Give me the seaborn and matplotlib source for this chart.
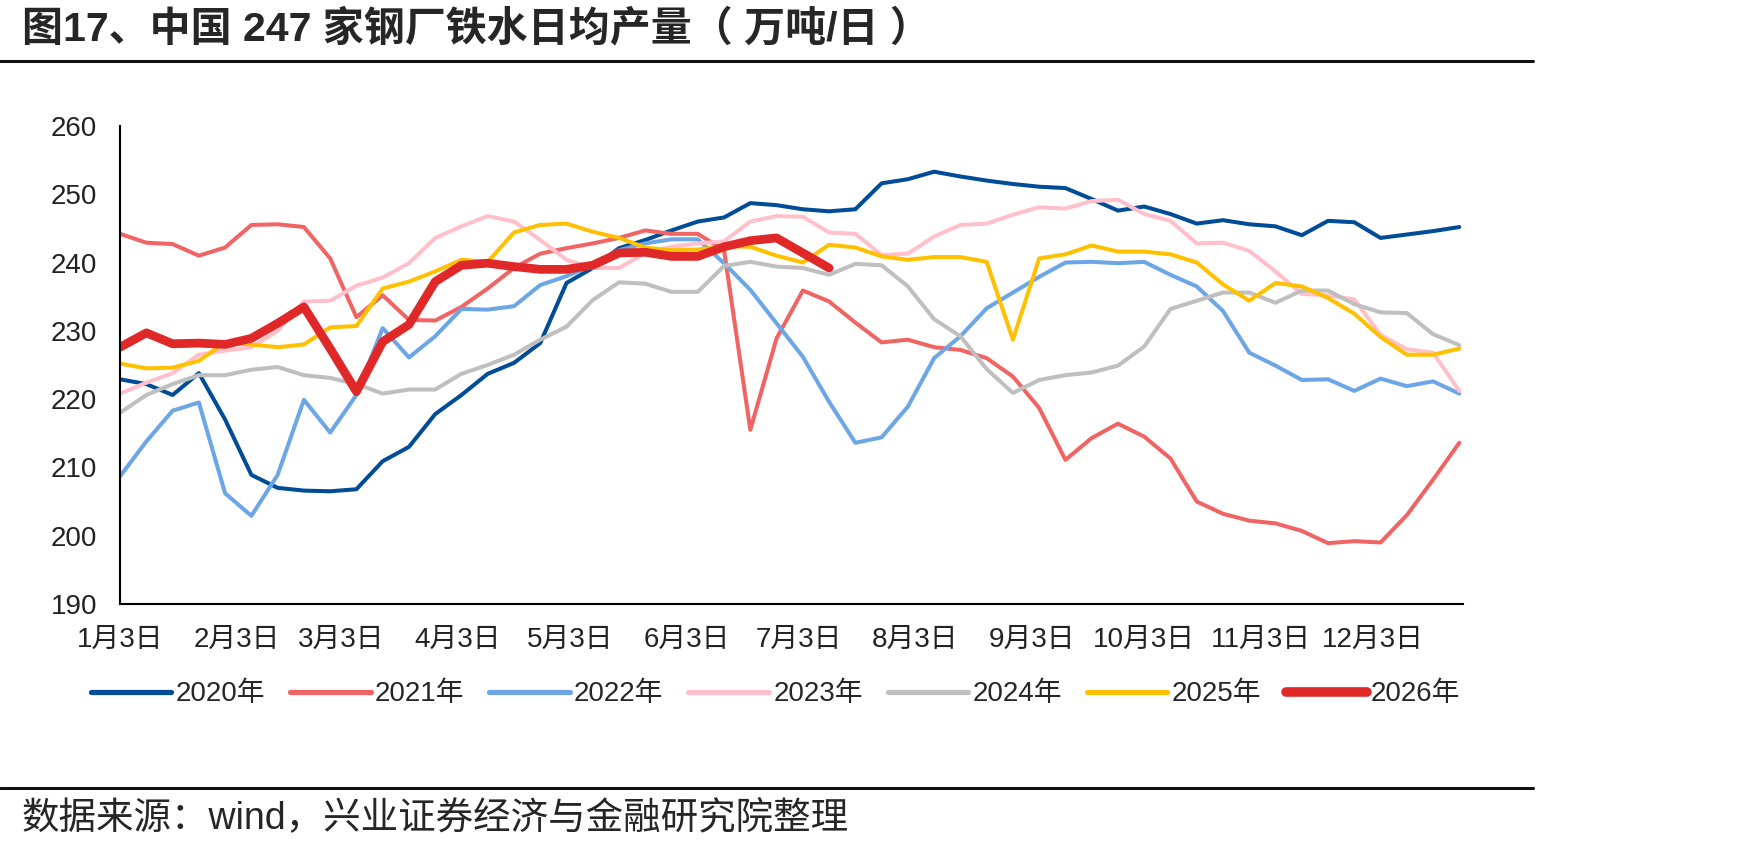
import pandas as pd
import numpy as np
import matplotlib.pyplot as plt
import seaborn as sns
from matplotlib.lines import Line2D

sns.set_style('white')
plt.rcParams['font.family'] = ['Liberation Sans', 'Noto Sans CJK SC', 'DejaVu Sans']
plt.rcParams['axes.unicode_minus'] = False

# weekly points, month/day only -> drawn on one common (non-leap) year
dates = pd.date_range('2021-01-03', periods=52, freq='7D')

y2020 = [222.9, 222.2, 220.6, 223.8, 217.0, 208.9, 207.0, 206.6, 206.5, 206.8,
         210.9, 213.0, 217.8, 220.6, 223.7, 225.3, 228.2, 237.0, 239.2, 242.1,
         243.3, 244.7, 246.0, 246.6, 248.7, 248.4, 247.8, 247.5, 247.8, 251.6,
         252.2, 253.3, 252.6, 252.0, 251.5, 251.1, 250.9, 249.3, 247.6, 248.2,
         247.1, 245.7, 246.2, 245.6, 245.3, 244.0, 246.1, 245.9, 243.6, 244.1,
         244.6, 245.2]
y2021 = [244.2, 242.9, 242.7, 241.0, 242.2, 245.5, 245.6, 245.2, 240.6, 232.0,
         235.2, 231.6, 231.5, 233.5, 236.2, 239.2, 241.3, 242.1, 242.8, 243.6,
         244.7, 244.2, 244.2, 241.8, 215.5, 228.9, 235.9, 234.3, 231.2, 228.3,
         228.7, 227.6, 227.2, 226.0, 223.3, 218.7, 211.1, 214.3, 216.4, 214.5,
         211.3, 205.0, 203.2, 202.2, 201.8, 200.7, 198.9, 199.2, 199.0, 203.0,
         208.2, 213.6]
y2022 = [208.7, 213.8, 218.3, 219.5, 206.2, 202.9, 208.9, 219.9, 215.1, 220.6,
         230.4, 226.1, 229.2, 233.2, 233.1, 233.6, 236.7, 238.0, 239.6, 241.8,
         242.8, 243.4, 243.4, 239.9, 236.0, 231.1, 226.2, 219.6, 213.6, 214.4,
         218.9, 226.0, 229.2, 233.3, 235.6, 237.9, 240.0, 240.1, 239.9, 240.1,
         238.2, 236.5, 232.9, 226.8, 224.9, 222.8, 222.9, 221.2, 223.0, 221.9,
         222.6, 220.8]
y2023 = [220.8, 222.4, 223.8, 226.5, 227.1, 227.6, 230.0, 234.3, 234.4, 236.6,
         237.8, 239.9, 243.6, 245.3, 246.8, 246.0, 243.3, 240.4, 239.2, 239.2,
         241.4, 242.3, 242.8, 243.1, 246.0, 246.8, 246.7, 244.4, 244.2, 241.1,
         241.3, 243.8, 245.5, 245.7, 247.0, 248.1, 247.9, 249.0, 249.2, 247.1,
         246.1, 242.8, 242.9, 241.7, 238.7, 235.4, 235.2, 234.6, 229.4, 227.3,
         226.8, 221.2]
y2024 = [218.0, 220.6, 222.2, 223.5, 223.5, 224.3, 224.7, 223.5, 223.1, 222.2,
         220.8, 221.4, 221.4, 223.7, 225.0, 226.5, 228.7, 230.6, 234.5, 237.1,
         236.9, 235.7, 235.7, 239.5, 240.1, 239.4, 239.2, 238.2, 239.8, 239.6,
         236.5, 231.7, 229.2, 224.4, 220.9, 222.8, 223.5, 223.9, 224.9, 227.7,
         233.2, 234.4, 235.6, 235.6, 234.1, 235.9, 235.9, 233.9, 232.7, 232.6,
         229.5, 227.9]
y2025 = [225.2, 224.5, 224.6, 225.6, 228.3, 228.0, 227.6, 228.0, 230.5, 230.7,
         236.2, 237.2, 238.7, 240.4, 240.1, 244.4, 245.5, 245.7, 244.5, 243.6,
         242.2, 241.8, 241.9, 242.4, 242.3, 241.0, 240.0, 242.6, 242.2, 240.9,
         240.4, 240.8, 240.8, 240.1, 228.7, 240.6, 241.2, 242.5, 241.6, 241.6,
         241.2, 240.0, 236.8, 234.4, 237.0, 236.5, 234.8, 232.5, 229.1, 226.5,
         226.5, 227.4]
y2026 = [227.6, 229.7, 228.1, 228.2, 228.0, 228.9, 231.1, 233.5, 227.4, 221.1,
         228.4, 230.9, 237.2, 239.6, 239.9, 239.4, 239.0, 239.0, 239.6, 241.4,
         241.5, 240.9, 240.9, 242.3, 243.2, 243.6, 241.4, 239.2]

years = ['2020年', '2021年', '2022年', '2023年', '2024年', '2025年', '2026年']
series = [y2020, y2021, y2022, y2023, y2024, y2025, y2026]
colors = ['#004C97', '#F06464', '#6CA6E6', '#FFC0CB', '#BFBFBF', '#FFC000', '#E02828']
widths = [2.9, 2.9, 2.9, 2.9, 2.9, 2.9, 6.3]

tick_labels = ['1月3日', '2月3日', '3月3日', '4月3日', '5月3日', '6月3日',
               '7月3日', '8月3日', '9月3日', '10月3日', '11月3日', '12月3日']
tick_dates = pd.date_range('2021-01-01', periods=12, freq='MS') + pd.Timedelta(days=2)

fig = plt.figure(figsize=(17.48, 8.51), dpi=100)
ax = fig.add_axes([0.0687, 0.2903, 0.7683, 0.5617])

#Plotting one line per year
for name, vals, c, w in zip(years, series, colors, widths):
    sns.lineplot(x=dates[:len(vals)], y=vals, color=c, linewidth=w, label=name,
                 ax=ax, solid_capstyle='round')

ax.set_xlim(dates[0], dates[0] + pd.Timedelta(days=358))
ax.set_ylim(190, 260)
ax.set_yticks(np.arange(190, 261, 10))
ax.set_xticks(tick_dates)
ax.set_xticklabels(tick_labels)
ax.set_xlabel('')
ax.set_ylabel('')

for s in ['top', 'right']:
    ax.spines[s].set_visible(False)
for s in ['left', 'bottom']:
    ax.spines[s].set_color('black')
    ax.spines[s].set_linewidth(1.5)
ax.tick_params(axis='both', direction='out', length=6.5, width=1.5, color='black',
               labelsize=20, labelcolor='#222222', pad=10)

#Legend below the plot
handles, labels = ax.get_legend_handles_labels()
ax.get_legend().remove()
leg = fig.legend(handles, labels, loc='center', bbox_to_anchor=(0.4437, 0.184), ncol=7,
                 frameon=False, fontsize=20, handlelength=2.9, handletextpad=0.15,
                 columnspacing=0.9)
for line, w in zip(leg.get_lines(), widths):
    line.set_linewidth(w * 1.3 if w < 5 else w * 1.1)
    line.set_solid_capstyle('round')

#Title, rules and source note
fig.text(0.0126, 1 - 29 / 851, '图17、中国 247 家钢厂铁水日均产量（ 万吨/日 ）',
         fontsize=29.5, fontweight='bold', va='center', ha='left')
fig.add_artist(Line2D([0, 1533 / 1748], [1 - 61 / 851] * 2, color='#111111', lw=2.2))
fig.add_artist(Line2D([0, 1533 / 1748], [1 - 788 / 851] * 2, color='#111111', lw=2.2))
fig.text(0.0126, 1 - 819 / 851, '数据来源：wind，兴业证券经济与金融研究院整理',
         fontsize=27, va='center', ha='left')

fig.savefig('out.png', dpi=100)
